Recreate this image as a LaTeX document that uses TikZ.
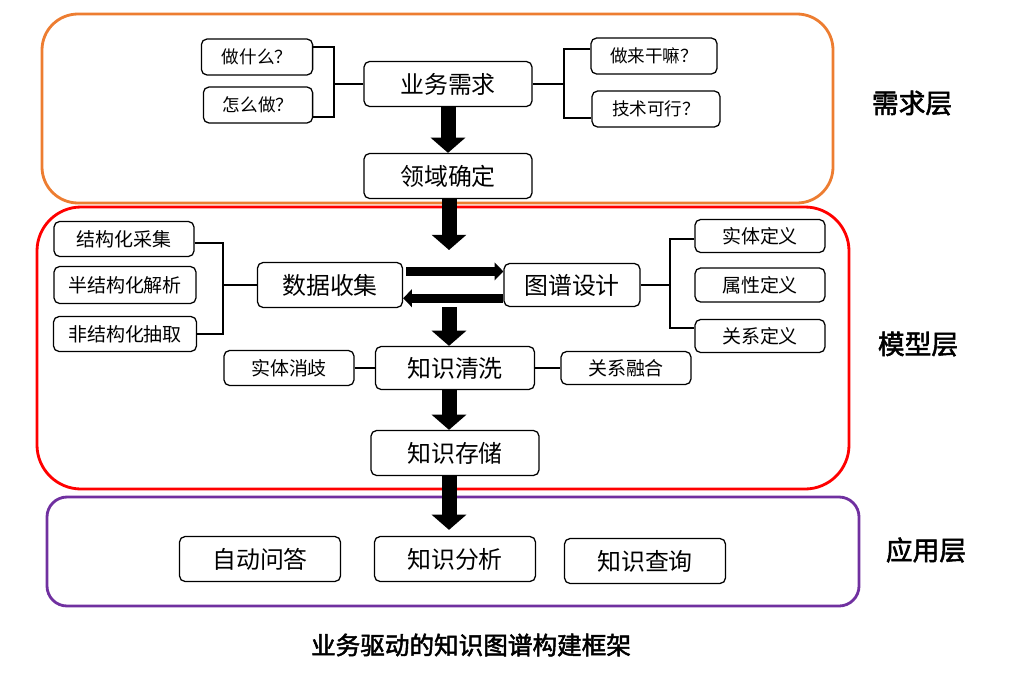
\documentclass[tikz,border=0pt]{standalone}
\usepackage{fontspec}
\newfontfamily\cjk[AutoFakeBold=2]{Noto Sans CJK SC}
\usetikzlibrary{arrows.meta, positioning}
\definecolor{reqorange}{RGB}{237,125,49}
\definecolor{modred}{RGB}{255,0,0}
\definecolor{apppurple}{RGB}{112,48,160}
\tikzset{
  box/.style={draw, rounded corners=4pt, line width=0.9pt, fill=white, minimum height=1.125cm, minimum width=4.2cm, align=center, font=\cjk\fontsize{17}{20}\selectfont},
  tag/.style={draw, rounded corners=4pt, line width=0.9pt, fill=white, minimum height=0.875cm, minimum width=3.25cm, align=center, font=\cjk\fontsize{13.5}{16}\selectfont},
  ask/.style={tag, minimum height=0.9cm, font=\cjk\fontsize{12.5}{15}\selectfont},
  layer/.style={line width=2pt, rounded corners=0.9cm},
  lbl/.style={font=\cjk\bfseries\fontsize{19}{22}\selectfont},
  link/.style={line width=1.2pt},
  bigarr/.style={line width=0.375cm, -{Triangle[length=0.38cm, width=0.85cm]}},
  flowarr/.style={line width=0.225cm, -{Triangle[length=0.22cm, width=0.44cm]}},
}

\begin{document}
\begin{tikzpicture}[x=0.025cm, y=-0.025cm]
    \useasboundingbox (0,0) rectangle (1016,678);
    \draw[layer, draw=reqorange] (42,14) rectangle (833,203);
    \draw[layer, draw=modred, rounded corners=1.1cm] (37,207) rectangle (849,489);
    \draw[layer, draw=apppurple, rounded corners=0.5cm] (47,497) rectangle (859,606);

    \node[box] (biz) at (448,84) {业务需求};
    \node[box] (domain) at (448,176) {领域确定};
    \node[ask, minimum width=2.78cm] (what) at (257,57) {做什么？};
    \node[ask, minimum width=2.73cm] (how) at (258,105) {怎么做？};
    \node[ask, minimum width=3.15cm] (why) at (654,56) {做来干嘛？};
    \node[ask, minimum width=3.2cm] (feasible) at (656,109) {技术可行？};

    \node[tag, minimum width=3.5cm] (struct) at (124,239) {结构化采集};
    \node[tag, minimum width=3.55cm, minimum height=0.925cm] (semi) at (125,285) {半结构化解析};
    \node[tag, minimum width=3.575cm] (unstruct) at (125,334) {非结构化抽取};
    \node[box, minimum width=3.625cm] (collect) at (330,285) {数据收集};
    \node[box, minimum width=3.4cm, minimum height=1.075cm] (design) at (572,285) {图谱设计};
    \node[tag, minimum height=0.825cm] (entity) at (760,236) {实体定义};
    \node[tag, minimum height=0.85cm] (attr) at (760,285) {属性定义};
    \node[tag, minimum height=0.825cm] (rel) at (760,336) {关系定义};
    \node[box, minimum width=3.975cm, minimum height=1.075cm] (clean) at (455,368) {知识清洗};
    \node[tag] (disamb) at (289,368) {实体消歧};
    \node[tag, minimum height=0.825cm] (fuse) at (626,368) {关系融合};
    \node[box] (store) at (455,453) {知识存储};

    \node[box, minimum width=4.025cm] (qa) at (260,559) {自动问答};
    \node[box, minimum width=4.025cm] (analysis) at (455,559) {知识分析};
    \node[box, minimum width=4.025cm] (query) at (645,561) {知识查询};

    \node[lbl] (reqlbl) at (912,103) {需求层};
    \node[lbl] (modlbl) at (918,344) {模型层};
    \node[lbl] (applbl) at (926,550) {应用层};
    \node[lbl, font=\cjk\bfseries\fontsize{17.5}{20}\selectfont] (title) at (471,645) {业务驱动的知识图谱构建框架};

    \coordinate (jreq) at (334,84);
    \coordinate (jwhy) at (564,84);
    \coordinate (jsrc) at (223,285);
    \coordinate (jdef) at (670,285);
    \draw[link] ([yshift=2.5mm]what.east) -| (jreq) |- ([yshift=-3mm]how.east);
    \draw[link] (biz) -- (jreq);
    \draw[link] ([yshift=1.75mm]why.west) -| (jwhy) |- ([yshift=-2.25mm]feasible.west);
    \draw[link] (biz) -- (jwhy);
    \draw[link] ([yshift=-1mm]struct.east) -| (jsrc) |- (unstruct.east);
    \draw[link] (collect) -- (jsrc);
    \draw[link] ([yshift=-0.75mm]entity.west) -| (jdef) |- ([yshift=2mm]rel.west);
    \draw[link] (design) -- (jdef);
    \draw[link] (disamb) -- (clean);
    \draw[link] (clean) -- (fuse);

    \coordinate (split) at (449,250);
    \coordinate (merge) at (449,307);
    \draw[bigarr] (biz) -- (domain);
    \draw[bigarr] (domain.south -| split) -- (split);
    \draw[bigarr] (merge) -- (merge |- clean.north);
    \draw[bigarr] (clean.south -| merge) -- (merge |- store.north);
    \draw[bigarr] (store.south -| merge) -- ([yshift=1.5mm]merge |- analysis.north);
    \draw[flowarr] ([xshift=0.8mm, yshift=3.4mm]collect.east) -- ([yshift=3.4mm]design.west);
    \draw[flowarr] ([yshift=-3.3mm]design.west) -- ([yshift=-3.3mm]collect.east);
  \end{tikzpicture}
\end{document}
